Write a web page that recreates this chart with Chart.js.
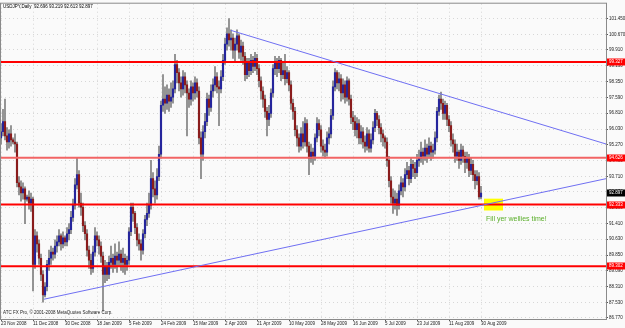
<!DOCTYPE html>
<html>
<head>
<meta charset="utf-8">
<title>USDJPY,Daily</title>
<script src="https://cdn.jsdelivr.net/npm/chart.js@4.4.0/dist/chart.umd.min.js"></script>
<style>
  html, body { margin: 0; padding: 0; background: #fafafa; }
  canvas { display: block; }
</style>
</head>
<body>
<canvas id="chart1" width="625" height="328"></canvas>
<script>
// USDJPY daily bars, 23 Nov 2008 - 30 Aug 2009 (six bars a week)
var opens = [
  95.60, 95.90, 96.40, 95.70, 95.40, 95.80, 95.50, 95.40, 95.30, 93.40,
  93.20, 92.90, 93.10, 92.60, 92.70, 92.40, 92.60, 89.40, 90.80, 90.40,
  89.70, 88.90, 87.90, 88.30, 89.40, 89.70, 90.00, 89.90, 90.30, 90.50,
  90.80, 90.40, 90.70, 90.50, 90.90, 91.10, 91.70, 92.30, 93.30, 93.80,
  92.40, 92.20, 91.30, 90.90, 90.10, 89.60, 89.20, 90.00, 90.80, 90.60,
  90.30, 89.80, 88.90, 89.30, 88.90, 89.50, 89.70, 89.40, 89.80, 89.60,
  89.90, 89.50, 89.70, 89.40, 89.60, 91.00, 92.20, 91.90, 91.20, 90.60,
  90.40, 90.10, 90.90, 91.60, 91.90, 92.30, 93.60, 93.10, 92.80, 93.70,
  94.80, 97.20, 97.50, 97.30, 97.70, 97.40, 97.60, 98.00, 99.20, 98.80,
  98.30, 98.00, 98.60, 98.20, 97.80, 97.50, 98.10, 97.80, 98.30, 97.90,
  95.60, 94.80, 95.90, 96.40, 97.50, 97.10, 97.90, 98.20, 98.60, 98.10,
  98.00, 98.60, 99.40, 100.20, 100.70, 100.40, 100.50, 99.90, 100.20, 100.60,
  99.80, 100.10, 99.60, 98.70, 99.30, 98.90, 99.40, 99.10, 99.50, 99.00,
  98.40, 97.90, 97.50, 96.90, 96.50, 96.80, 97.80, 99.00, 99.30, 99.00,
  99.40, 98.70, 98.90, 98.50, 98.80, 98.20, 97.30, 96.90, 96.00, 95.60,
  95.20, 95.80, 95.40, 96.30, 95.20, 94.60, 94.90, 94.70, 95.60, 96.30,
  96.00, 95.20, 95.00, 94.90, 95.60, 95.80, 96.70, 98.10, 98.80, 98.30,
  98.50, 97.80, 98.20, 97.60, 98.40, 97.50, 96.60, 96.40, 96.00, 96.30,
  95.60, 95.90, 95.40, 95.20, 95.80, 95.10, 95.50, 96.10, 96.80, 96.50,
  96.10, 95.80, 95.60, 95.40, 94.50, 93.50, 92.70, 92.40, 92.60, 92.30,
  93.00, 93.40, 93.20, 93.80, 94.00, 93.60, 94.30, 94.10, 93.90, 94.50,
  94.60, 94.90, 94.70, 95.10, 94.80, 95.20, 94.90, 95.00, 95.60, 96.90,
  97.50, 97.30, 96.80, 97.20, 96.50, 96.20, 95.50, 95.30, 94.70, 94.90,
  94.50, 95.00, 94.70, 94.40, 94.60, 94.00, 94.30, 93.80, 93.50, 93.70,
  92.70
];
var highs = [
  96.30, 97.00, 97.50, 96.10, 96.00, 96.20, 95.60, 95.80, 95.40, 93.70,
  93.50, 93.40, 93.20, 92.80, 93.00, 92.90, 92.70, 91.10, 91.00, 90.60,
  89.90, 89.10, 88.50, 89.60, 90.10, 90.30, 90.20, 90.60, 90.80, 91.10,
  90.90, 91.00, 90.80, 91.20, 91.40, 92.00, 92.60, 93.60, 94.60, 94.00,
  92.90, 92.40, 91.50, 91.10, 90.30, 89.90, 90.30, 91.20, 91.00, 90.80,
  90.50, 90.00, 89.60, 89.50, 89.80, 90.30, 89.90, 90.40, 90.00, 90.50,
  90.10, 90.20, 89.90, 89.80, 91.20, 92.40, 92.40, 92.00, 91.40, 90.90,
  90.60, 91.10, 91.80, 92.40, 92.90, 94.50, 93.90, 93.50, 94.10, 95.20,
  97.40, 98.70, 98.10, 98.20, 98.00, 98.30, 98.40, 99.70, 99.40, 99.00,
  98.60, 98.90, 98.80, 98.40, 98.00, 98.40, 98.30, 98.60, 98.50, 98.10,
  95.90, 96.20, 96.80, 97.80, 97.70, 98.20, 98.50, 99.10, 98.80, 98.40,
  98.90, 99.70, 100.50, 101.00, 101.45, 100.90, 100.70, 100.50, 100.90, 100.70,
  100.40, 100.30, 99.80, 99.50, 99.50, 99.70, 99.60, 99.80, 99.70, 99.20,
  98.60, 98.10, 97.70, 97.10, 97.20, 98.00, 99.20, 99.60, 99.50, 99.60,
  99.50, 99.30, 99.70, 99.10, 98.90, 98.40, 97.50, 97.10, 96.20, 95.80,
  96.10, 96.40, 96.60, 96.50, 95.40, 95.30, 95.10, 95.80, 96.60, 96.50,
  96.20, 95.50, 95.30, 95.90, 96.10, 97.00, 98.40, 99.00, 98.90, 98.80,
  98.70, 98.50, 98.40, 98.60, 98.50, 97.70, 96.90, 96.70, 96.60, 96.50,
  96.20, 96.10, 95.70, 96.10, 96.00, 95.80, 96.40, 97.00, 96.90, 96.70,
  96.30, 96.00, 95.70, 95.60, 94.70, 93.70, 93.10, 93.00, 92.90, 93.30,
  93.70, 93.60, 94.10, 94.40, 94.20, 94.60, 94.50, 94.40, 94.80, 95.00,
  95.40, 95.10, 95.50, 95.30, 95.60, 95.40, 95.30, 95.90, 97.10, 97.70,
  97.85, 97.50, 97.40, 97.30, 96.70, 96.40, 95.80, 95.50, 95.30, 95.00,
  95.30, 95.20, 94.90, 94.90, 94.80, 94.60, 94.50, 94.00, 94.00, 93.90,
  93.22
];
var lows = [
  95.30, 95.70, 95.50, 95.00, 95.10, 95.20, 95.30, 94.90, 93.20, 92.80,
  92.50, 92.60, 91.40, 92.50, 92.10, 92.00, 88.10, 89.20, 90.00, 89.40,
  88.60, 87.55, 87.80, 88.10, 89.10, 89.40, 89.60, 89.70, 90.00, 90.30,
  90.10, 90.20, 90.30, 90.30, 90.60, 90.90, 91.50, 92.10, 93.10, 92.20,
  91.80, 91.00, 90.60, 89.80, 89.20, 88.90, 89.00, 89.80, 90.30, 89.90,
  89.50, 87.10, 88.50, 88.60, 88.70, 89.20, 89.00, 89.20, 89.00, 89.30,
  89.10, 89.00, 88.90, 89.10, 89.40, 90.80, 91.50, 90.90, 90.30, 90.10,
  89.60, 89.90, 90.70, 91.30, 91.70, 92.10, 92.70, 92.40, 92.60, 93.50,
  94.60, 96.90, 96.80, 97.00, 96.90, 97.10, 97.30, 97.80, 98.30, 97.90,
  97.60, 97.70, 97.80, 95.70, 97.10, 97.20, 97.40, 97.50, 97.60, 95.30,
  93.60, 94.50, 95.60, 96.20, 96.70, 96.90, 97.60, 97.90, 97.80, 96.20,
  97.80, 98.40, 99.20, 99.90, 100.10, 99.90, 99.50, 99.30, 99.90, 99.50,
  99.40, 99.20, 98.40, 98.50, 98.60, 98.70, 98.80, 98.90, 98.70, 98.10,
  97.50, 97.10, 96.60, 95.70, 96.20, 96.60, 97.60, 98.70, 98.60, 98.80,
  98.40, 98.50, 98.20, 98.30, 97.90, 97.00, 96.50, 95.70, 95.20, 94.90,
  95.00, 95.10, 95.20, 94.90, 93.80, 94.40, 94.30, 94.50, 95.40, 95.70,
  94.90, 94.70, 94.60, 94.70, 95.30, 95.60, 96.50, 97.90, 98.00, 97.90,
  97.40, 97.50, 97.30, 97.40, 97.20, 96.30, 96.00, 95.70, 95.60, 95.30,
  95.30, 95.10, 94.90, 95.00, 94.90, 94.90, 95.30, 95.90, 96.20, 95.80,
  95.40, 95.20, 95.10, 94.20, 93.20, 92.40, 91.90, 92.10, 91.80, 92.10,
  92.80, 92.70, 93.00, 93.60, 93.30, 93.40, 93.70, 93.60, 93.70, 94.20,
  94.40, 94.30, 94.50, 94.40, 94.60, 94.50, 94.60, 94.80, 95.40, 96.70,
  97.00, 96.50, 96.50, 96.20, 95.90, 95.20, 94.90, 94.40, 94.50, 94.10,
  94.30, 94.40, 93.90, 94.10, 93.70, 93.80, 93.50, 93.10, 93.30, 92.60,
  92.61
];
var closes = [
  95.90, 96.40, 95.70, 95.40, 95.80, 95.50, 95.40, 95.30, 93.40, 93.20,
  92.90, 93.10, 92.60, 92.70, 92.40, 92.60, 89.40, 90.80, 90.40, 89.70,
  88.90, 87.90, 88.30, 89.40, 89.70, 90.00, 89.90, 90.30, 90.50, 90.80,
  90.40, 90.70, 90.50, 90.90, 91.10, 91.70, 92.30, 93.30, 93.80, 92.40,
  92.20, 91.30, 90.90, 90.10, 89.60, 89.20, 90.00, 90.80, 90.60, 90.30,
  89.80, 88.90, 89.30, 88.90, 89.50, 89.70, 89.40, 89.80, 89.60, 89.90,
  89.50, 89.70, 89.40, 89.60, 91.00, 92.20, 91.90, 91.20, 90.60, 90.40,
  90.10, 90.90, 91.60, 91.90, 92.30, 93.60, 93.10, 92.80, 93.70, 94.80,
  97.20, 97.50, 97.30, 97.70, 97.40, 97.60, 98.00, 99.20, 98.80, 98.30,
  98.00, 98.60, 98.20, 97.80, 97.50, 98.10, 97.80, 98.30, 97.90, 95.60,
  94.80, 95.90, 96.40, 97.50, 97.10, 97.90, 98.20, 98.60, 98.10, 98.00,
  98.60, 99.40, 100.20, 100.70, 100.40, 100.50, 99.90, 100.20, 100.60, 99.80,
  100.10, 99.60, 98.70, 99.30, 98.90, 99.40, 99.10, 99.50, 99.00, 98.40,
  97.90, 97.50, 96.90, 96.50, 96.80, 97.80, 99.00, 99.30, 99.00, 99.40,
  98.70, 98.90, 98.50, 98.80, 98.20, 97.30, 96.90, 96.00, 95.60, 95.20,
  95.80, 95.40, 96.30, 95.20, 94.60, 94.90, 94.70, 95.60, 96.30, 96.00,
  95.20, 95.00, 94.90, 95.60, 95.80, 96.70, 98.10, 98.80, 98.30, 98.50,
  97.80, 98.20, 97.60, 98.40, 97.50, 96.60, 96.40, 96.00, 96.30, 95.60,
  95.90, 95.40, 95.20, 95.80, 95.10, 95.50, 96.10, 96.80, 96.50, 96.10,
  95.80, 95.60, 95.40, 94.50, 93.50, 92.70, 92.40, 92.60, 92.30, 93.00,
  93.40, 93.20, 93.80, 94.00, 93.60, 94.30, 94.10, 93.90, 94.50, 94.60,
  94.90, 94.70, 95.10, 94.80, 95.20, 94.90, 95.00, 95.60, 96.90, 97.50,
  97.30, 96.80, 97.20, 96.50, 96.20, 95.50, 95.30, 94.70, 94.90, 94.50,
  95.00, 94.70, 94.40, 94.60, 94.00, 94.30, 93.80, 93.50, 93.70, 92.70,
  92.90
];

// one date label every 16 bars
var dateTicks = ['23 Nov 2008', '11 Dec 2008', '30 Dec 2008', '18 Jan 2009', '5 Feb 2009', '24 Feb 2009',
  '15 Mar 2009', '2 Apr 2009', '21 Apr 2009', '10 May 2009', '28 May 2009', '16 Jun 2009',
  '5 Jul 2009', '23 Jul 2009', '11 Aug 2009', '30 Aug 2009'];
var priceTicks = [86.770, 87.530, 88.310, 89.090, 89.850, 90.630, 91.410, 92.190, 92.970, 93.710,
  94.490, 95.270, 96.030, 96.810, 97.590, 98.350, 99.130, 99.910, 100.670, 101.450];

// horizontal levels and trendlines drawn on the chart (bar index, price)
var levels = [99.327, 94.626, 92.333, 89.302];
var supportLine = [[21.5, 87.69], [302.5, 93.60]];
var resistLine = [[115, 100.87], [302.5, 95.30]];
var lastPrice = 92.897;
var titleText = 'USDJPY,Daily  92.696 93.219 92.613 92.897';

var tinyFont = { family: "'Liberation Sans', Arial, sans-serif", size: 4.5 };

var wickData = highs.map(function(h, i) { return { x: i, y: [lows[i], h] }; });
var bodyData = opens.map(function(o, i) { return { x: i, y: [o, closes[i]] }; });
var bodyColors = opens.map(function(o, i) { return closes[i] >= o ? '#25259c' : '#8a1c1c'; });

function linePoints(pts) {
  return pts.map(function(p) { return { x: p[0], y: p[1] }; });
}

var levelSets = levels.map(function(v, k) {
  return {
    type: 'line',
    data: [{ x: 0, y: v }, { x: 302.5, y: v }],
    borderColor: k === 1 ? '#f26464' : '#ff0000',
    borderWidth: 2,
    pointRadius: 0,
    order: 1
  };
});

// frame, price labels and notes
var mtDecor = {
  id: 'mtDecor',
  beforeDraw: function(chart) {
    var c = chart.ctx;
    c.save();
    c.fillStyle = '#fafafa';
    c.fillRect(0, 0, chart.width, chart.height);
    c.restore();
  },
  beforeDatasetsDraw: function(chart) {
    var c = chart.ctx, xs = chart.scales.x, ys = chart.scales.y;
    var x1 = xs.getPixelForValue(241.5), x2 = xs.getPixelForValue(251);
    var y1 = ys.getPixelForValue(92.62), y2 = ys.getPixelForValue(92.04);
    c.save();
    c.fillStyle = '#ffff00';
    c.fillRect(x1, y1, x2 - x1, y2 - y1);
    c.restore();
  },
  afterDraw: function(chart) {
    var c = chart.ctx, a = chart.chartArea, ys = chart.scales.y, xs = chart.scales.x;
    var font = tinyFont.size + 'px ' + tinyFont.family;
    c.save();
    c.strokeStyle = '#8a8a8a';
    c.lineWidth = 1;
    c.strokeRect(a.left - 0.5, a.top - 0.5, a.right - a.left + 1, a.bottom - a.top + 1);

    c.font = font;
    c.textBaseline = 'middle';
    c.textAlign = 'left';
    levels.forEach(function(v) {
      var py = Math.round(ys.getPixelForValue(v));
      c.fillStyle = '#ff0000';
      c.fillRect(a.right + 1, py - 3.5, 19, 7);
      c.fillStyle = '#ffffff';
      c.fillText(v.toFixed(3), a.right + 3, py);
    });
    var ly = Math.round(ys.getPixelForValue(lastPrice));
    c.fillStyle = '#000000';
    c.fillRect(a.right + 1, ly - 3.5, 19, 7);
    c.fillStyle = '#ffffff';
    c.fillText(lastPrice.toFixed(3), a.right + 3, ly);

    c.fillStyle = '#000000';
    c.fillText(titleText, 3, 7);
    c.fillStyle = '#222222';
    c.fillText('ATC FX Pro, \u00a9 2001-2008 MetaQuotes Software Corp.', 3, 313);

    c.font = "7px 'Liberation Sans', Arial, sans-serif";
    c.fillStyle = '#5aae2a';
    c.fillText('Fill yer wellies time!', xs.getPixelForValue(242.5), ys.getPixelForValue(91.62));
    c.restore();
  }
};

var ctx = document.getElementById('chart1').getContext('2d');

var myChart = new Chart(ctx, {
  type: 'bar',
  data: {
    datasets: [{
      label: 'wick',
      data: wickData,
      backgroundColor: '#808080',
      barThickness: 1,
      grouped: false,
      order: 3
    }, {
      label: 'body',
      data: bodyData,
      backgroundColor: bodyColors,
      barThickness: 1.5,
      minBarLength: 1,
      grouped: false,
      order: 2
    }, {
      type: 'line',
      label: 'support',
      data: linePoints(supportLine),
      borderColor: '#6f6ff2',
      borderWidth: 1,
      pointRadius: 0,
      order: 0
    }, {
      type: 'line',
      label: 'resistance',
      data: linePoints(resistLine),
      borderColor: '#6f6ff2',
      borderWidth: 1,
      pointRadius: 0,
      order: 0
    }].concat(levelSets)
  },
  options: {
    responsive: false,
    animation: false,
    devicePixelRatio: 1,
    events: [],
    layout: { padding: { left: 1, top: 2, right: 0, bottom: 0 } },
    plugins: {
      legend: { display: false },
      tooltip: { enabled: false }
    },
    scales: {
      x: {
        type: 'linear',
        min: 0,
        max: 302.5,
        offset: false,
        afterBuildTicks: function(s) {
          s.ticks = dateTicks.map(function(d, k) { return { value: k * 16 }; });
        },
        afterFit: function(s) { s.height = 9; },
        ticks: {
          align: 'start',
          autoSkip: false,
          maxRotation: 0,
          padding: 0,
          color: '#222',
          font: tinyFont,
          callback: function(v, k) { return dateTicks[k]; }
        },
        grid: { offset: false, color: 'rgba(150,150,150,0.35)', tickColor: '#555', tickLength: 2 },
        border: { display: false, dash: [1, 3] }
      },
      y: {
        position: 'right',
        min: 86.72,
        max: 102.18,
        afterBuildTicks: function(s) {
          s.ticks = priceTicks.map(function(v) { return { value: v }; });
        },
        afterFit: function(s) { s.width = 19; },
        ticks: {
          autoSkip: false,
          padding: 1,
          color: '#222',
          font: tinyFont,
          callback: function(v) { return v.toFixed(3); }
        },
        grid: { color: 'rgba(150,150,150,0.35)', tickColor: '#555', tickLength: 2 },
        border: { color: '#666', dash: [1, 3] }
      }
    }
  },
  plugins: [mtDecor]
});
</script>
</body>
</html>
